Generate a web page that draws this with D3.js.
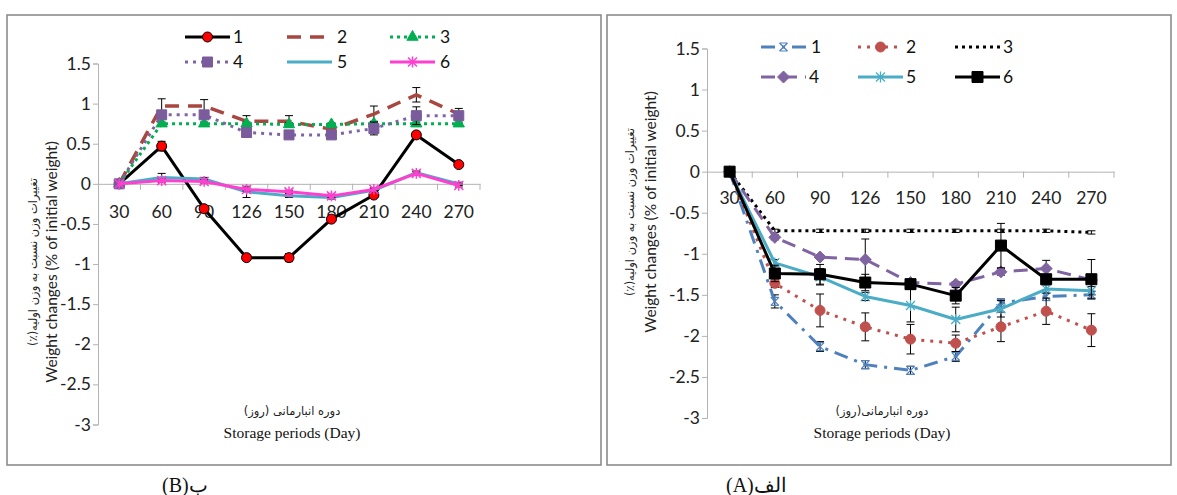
<!DOCTYPE html>
<html lang="en">
<head>
    <meta charset="UTF-8">
    <title>Weight changes during storage</title>
    <script src="https://d3js.org/d3.v7.min.js"></script>
    <style>
        body { margin: 0; background: #fff; }
        svg { display: block; }
        .tick-label { font-family: Lato, "Open Sans", sans-serif; font-size: 17.5px; fill: #222; }
        .legend-label { font-family: Lato, "Open Sans", sans-serif; font-size: 17.5px; fill: #111; }
        .y-title { font-family: Lato, "Open Sans", sans-serif; font-size: 15.5px; fill: #222; }
        .fa-title { font-family: "DejaVu Sans", sans-serif; font-size: 11.5px; fill: #222; }
        .x-title { font-family: "Liberation Serif", "DejaVu Serif", serif; font-size: 15.5px; fill: #111; }
        .caption { font-family: "Liberation Serif", "DejaVu Serif", serif; font-size: 20px; fill: #111; }
    </style>
</head>
<body>
<svg width="1177" height="495"></svg>
<script>
// categories and ticks
const days = ["30", "60", "90", "126", "150", "180", "210", "240", "270"];
const yTicks = [1.5, 1, 0.5, 0, -0.5, -1, -1.5, -2, -2.5, -3];
const seriesNames = ["1", "2", "3", "4", "5", "6"];

// panel B (left)
const b1 = [0, 0.47, -0.31, -0.92, -0.92, -0.44, -0.14, 0.61, 0.24];
const b2 = [0, 0.97, 0.97, 0.78, 0.78, 0.68, 0.87, 1.11, 0.87];
const b3 = [0, 0.75, 0.75, 0.75, 0.74, 0.74, 0.75, 0.75, 0.75];
const b4 = [0, 0.86, 0.86, 0.64, 0.61, 0.61, 0.69, 0.85, 0.85];
const b5 = [0, 0.08, 0.06, -0.1, -0.15, -0.17, -0.08, 0.14, 0.0];
const b6 = [0, 0.04, 0.03, -0.07, -0.1, -0.15, -0.07, 0.13, -0.02];
const b1err = [0, 0.06, 0.02, 0.02, 0.05, 0.03, 0.03, 0.03, 0.02];
const b2err = [0, 0.09, 0.08, 0.07, 0.07, 0.03, 0.1, 0.09, 0.07];
const b3err = [0, 0.02, 0.02, 0.02, 0.02, 0.02, 0.03, 0.02, 0.02];
const b4err = [0, 0.03, 0.03, 0.03, 0.03, 0.03, 0.08, 0.11, 0.04];
const b5err = [0, 0.05, 0.02, 0.07, 0.02, 0.02, 0.02, 0.02, 0.02];
const b6err = [0, 0.02, 0.02, 0.02, 0.02, 0.02, 0.02, 0.02, 0.02];

// panel A (right)
const a1 = [0, -1.58, -2.13, -2.35, -2.42, -2.25, -1.6, -1.52, -1.5];
const a2 = [0, -1.36, -1.69, -1.89, -2.04, -2.09, -1.89, -1.7, -1.93];
const a3 = [0, -0.72, -0.72, -0.72, -0.72, -0.72, -0.72, -0.72, -0.74];
const a4 = [0, -0.8, -1.04, -1.07, -1.35, -1.37, -1.22, -1.18, -1.32];
const a5 = [0, -1.11, -1.28, -1.52, -1.63, -1.8, -1.67, -1.43, -1.45];
const a6 = [0, -1.24, -1.25, -1.35, -1.37, -1.51, -0.9, -1.31, -1.31];
const a1err = [0, 0.08, 0.06, 0.05, 0.05, 0.06, 0.05, 0.05, 0.04];
const a2err = [0, 0.05, 0.2, 0.17, 0.18, 0.1, 0.18, 0.16, 0.2];
const a3err = [0, 0.02, 0.02, 0.02, 0.02, 0.02, 0.02, 0.02, 0.02];
const a4err = [0, 0.03, 0.03, 0.25, 0.03, 0.03, 0.04, 0.1, 0.04];
const a5err = [0, 0.04, 0.1, 0.05, 0.2, 0.15, 0.1, 0.05, 0.05];
const a6err = [0, 0.1, 0.12, 0.1, 0.06, 0.1, 0.27, 0.04, 0.24];

const svg = d3.select("svg");

// marker shapes
function markerPath(type, s) {
    if (type === "circle") return d3.symbol(d3.symbolCircle, Math.PI * s * s)();
    if (type === "square") return d3.symbol(d3.symbolSquare, 4 * s * s)();
    if (type === "triangle") return d3.symbol(d3.symbolTriangle, 2.2 * s * s)();
    if (type === "diamond") return "M0," + (-s) + "L" + s + ",0L0," + s + "L" + (-s) + ",0Z";
    if (type === "star") return "M" + (-s) + "," + (-s) + "L" + s + "," + s + "M" + (-s) + "," + s + "L" + s + "," + (-s) + "M0," + (-s * 1.2) + "L0," + (s * 1.2);
    if (type === "x") return "M" + (-s) + "," + (-s) + "L" + s + "," + s + "M" + (-s) + "," + s + "L" + s + "," + (-s) + "M" + (-s) + "," + (-s) + "L" + s + "," + (-s) + "M" + (-s) + "," + s + "L" + s + "," + s;
    return null;
}

function drawPanel(p) {
    const g = svg.append("g");

    g.append("rect")
        .attr("x", p.frame[0]).attr("y", p.frame[1])
        .attr("width", p.frame[2]).attr("height", p.frame[3])
        .attr("fill", "none").attr("stroke", "#8c8c8c").attr("stroke-width", 1.6);

    const x = d3.scaleBand().domain(days).range([p.left, p.right]);
    const y = d3.scaleLinear().domain([-3, 1.5]).range([p.bottom, p.top]);

    // y axis
    const yAxis = g.append("g")
        .attr("transform", "translate(" + p.left + ",0)")
        .call(d3.axisLeft(y).tickValues(yTicks).tickSize(5).tickPadding(2).tickFormat(d => String(d)));
    yAxis.select(".domain").attr("stroke", "#b3b3b3");
    yAxis.selectAll(".tick line").attr("stroke", "#b3b3b3");
    yAxis.selectAll(".tick text").attr("class", "tick-label").attr("font-size", null).attr("font-family", null);

    // x axis sits at zero, labels below
    const xAxis = g.append("g")
        .attr("transform", "translate(0," + y(0) + ")")
        .call(d3.axisBottom(x).tickSize(0).tickPadding(p.labelPad));
    xAxis.select(".domain").attr("stroke", "#b3b3b3");
    xAxis.selectAll(".tick text").attr("class", "tick-label").attr("font-size", null).attr("font-family", null);
    // category boundary ticks
    xAxis.selectAll(".bound")
        .data(days)
        .enter().append("line")
        .attr("x1", d => x(d) + x.bandwidth()).attr("x2", d => x(d) + x.bandwidth())
        .attr("y1", 0).attr("y2", 6)
        .attr("stroke", "#b3b3b3");

    const cx = i => x(days[i]) + x.bandwidth() / 2;

    p.series.forEach(s => {
        const sg = g.append("g");
        // error bars
        s.values.forEach((v, i) => {
            const e = s.err[i];
            if (!e) return;
            sg.append("line").attr("x1", cx(i)).attr("x2", cx(i))
                .attr("y1", y(v - e)).attr("y2", y(v + e)).attr("stroke", "#000").attr("stroke-width", 1);
            [v - e, v + e].forEach(t => {
                sg.append("line").attr("x1", cx(i) - 4).attr("x2", cx(i) + 4)
                    .attr("y1", y(t)).attr("y2", y(t)).attr("stroke", "#000").attr("stroke-width", 1);
            });
        });
        const line = d3.line().x((d, i) => cx(i)).y(d => y(d));
        sg.append("path").datum(s.values)
            .attr("d", line)
            .attr("fill", "none")
            .attr("stroke", s.color)
            .attr("stroke-width", s.width)
            .attr("stroke-dasharray", s.dash)
            .attr("stroke-linejoin", "round");
        if (s.marker) {
            sg.selectAll(".m").data(s.values).enter().append("path")
                .attr("transform", (d, i) => "translate(" + cx(i) + "," + y(d) + ")")
                .attr("d", markerPath(s.marker, s.msize))
                .attr("fill", s.mfill)
                .attr("stroke", s.mstroke)
                .attr("stroke-width", s.mwidth);
        }
    });

    // legend
    p.series.forEach((s, i) => {
        const col = i % 3, row = Math.floor(i / 3);
        const lx = p.legendX[col], ly = p.legendY[row];
        const len = s.legendLen || 45;
        g.append("line")
            .attr("x1", lx).attr("x2", lx + len).attr("y1", ly).attr("y2", ly)
            .attr("stroke", s.color).attr("stroke-width", s.width)
            .attr("stroke-dasharray", s.dash);
        if (s.marker) {
            g.append("path")
                .attr("transform", "translate(" + (lx + len / 2) + "," + ly + ")")
                .attr("d", markerPath(s.marker, s.msize))
                .attr("fill", s.mfill).attr("stroke", s.mstroke).attr("stroke-width", s.mwidth);
        }
        g.append("text").attr("class", "legend-label")
            .attr("x", p.legendX[col] + p.labelOffset[i]).attr("y", ly + 6)
            .text(seriesNames[i]);
    });

    // axis titles
    g.append("text").attr("class", "fa-title")
        .attr("transform", "translate(" + p.faTitleX + "," + p.titleY + ") rotate(-90)")
        .attr("text-anchor", "middle").attr("dominant-baseline", "central")
        .attr("direction", "rtl")
        .text("تغییرات وزن نسبت به وزن اولیه(٪)");
    g.append("text").attr("class", "y-title")
        .attr("transform", "translate(" + p.enTitleX + "," + p.titleY + ") rotate(-90)")
        .attr("text-anchor", "middle").attr("dominant-baseline", "central")
        .text("Weight changes (% of initial weight)");
    g.append("text").attr("class", "fa-title")
        .attr("x", p.xTitleX).attr("y", 415).attr("text-anchor", "middle")
        .attr("direction", "rtl")
        .text(p.xFa);
    g.append("text").attr("class", "x-title")
        .attr("x", p.xTitleX).attr("y", 438).attr("text-anchor", "middle")
        .text("Storage periods (Day)");

    g.append("text").attr("class", "caption")
        .attr("x", p.captionX).attr("y", 492)
        .attr("direction", "ltr")
        .text(p.caption);
}

drawPanel({
    frame: [7, 15, 594, 450],
    left: 98, right: 480, top: 63.5, bottom: 424.5,
    labelPad: 22,
    legendX: [185, 287, 390], legendY: [37, 62],
    labelOffset: [48, 50, 50, 48, 50, 50],
    faTitleX: 33, enTitleX: 51, titleY: 262,
    xTitleX: 292, xFa: "دوره انبارمانی (روز)",
    captionX: 162, caption: "(B)ب",
    series: [
        { values: b1, err: b1err, color: "#000", width: 3, dash: null, marker: "circle", msize: 5, mfill: "#ff0000", mstroke: "#000", mwidth: 1 },
        { values: b2, err: b2err, color: "#a9463f", width: 3.5, dash: "14 9", marker: null, legendLen: 40 },
        { values: b3, err: b3err, color: "#00b050", width: 3, dash: "3 4", marker: "triangle", msize: 5, mfill: "#00b050", mstroke: "#00b050", mwidth: 1 },
        { values: b4, err: b4err, color: "#8064a2", width: 3, dash: "3 5", marker: "square", msize: 5, mfill: "#7a5c9c", mstroke: "#7a5c9c", mwidth: 1 },
        { values: b5, err: b5err, color: "#4bacc6", width: 3, dash: null, marker: null, legendLen: 45 },
        { values: b6, err: b6err, color: "#ff3fd0", width: 3, dash: null, marker: "star", msize: 4.5, mfill: "none", mstroke: "#ff3fd0", mwidth: 1.5 }
    ]
});

drawPanel({
    frame: [607, 15, 564, 450],
    left: 707, right: 1114, top: 48.5, bottom: 418,
    labelPad: 20,
    legendX: [761, 858, 955], legendY: [47, 77],
    labelOffset: [50, 48, 48, 48, 48, 48],
    faTitleX: 630, enTitleX: 650, titleY: 212,
    xTitleX: 882, xFa: "دوره انبارمانی(روز)",
    captionX: 726, caption: "(A)الف",
    series: [
        { values: a1, err: a1err, color: "#4f81bd", width: 3, dash: "14 7 3 7", marker: "x", msize: 4, mfill: "none", mstroke: "#4f81bd", mwidth: 1.2 },
        { values: a2, err: a2err, color: "#c0504d", width: 3, dash: "3 6", marker: "circle", msize: 5, mfill: "#c0504d", mstroke: "#c0504d", mwidth: 1 },
        { values: a3, err: a3err, color: "#000", width: 3, dash: "3 4", marker: null },
        { values: a4, err: a4err, color: "#8064a2", width: 3, dash: "14 8", marker: "diamond", msize: 6, mfill: "#8064a2", mstroke: "#8064a2", mwidth: 1 },
        { values: a5, err: a5err, color: "#4bacc6", width: 3, dash: null, marker: "star", msize: 4.5, mfill: "none", mstroke: "#4bacc6", mwidth: 1.3 },
        { values: a6, err: a6err, color: "#000", width: 3, dash: null, marker: "square", msize: 5.5, mfill: "#000", mstroke: "#000", mwidth: 1 }
    ]
});
</script>
</body>
</html>
